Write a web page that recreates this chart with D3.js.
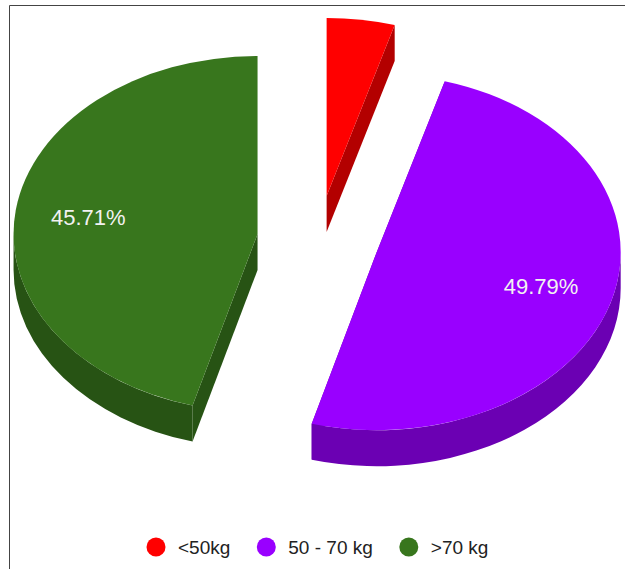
<!DOCTYPE html>
<html>
<head>
<meta charset="utf-8">
<script src="https://cdn.jsdelivr.net/npm/d3@7"></script>
<style>
  html, body { margin: 0; padding: 0; background: #fff; }
  svg { display: block; }
</style>
</head>
<body>
<svg id="chart" width="625" height="569"></svg>
<script>
// Weight groups and their shares (%)
const categories = ["<50kg", "50 - 70 kg", ">70 kg"];
const shares = [4.50, 49.79, 45.71];
const colors = ["#ff0000", "#9900ff", "#38761d"];

const W = 625, H = 569;
const svg = d3.select("#chart");

// frame
svg.append("path")
  .attr("d", `M9.5,${H}V5.5H${W}`)
  .attr("fill", "none")
  .attr("stroke", "#444")
  .attr("stroke-width", 1);

// 3D pie geometry
const cx = 318, cy = 240;     // centre of the un-exploded pie
const rx = 244, ry = 178;     // ellipse radii of the top face
const depth = 36;             // thickness of the pie
const explode = 0.25;         // slice offset as a fraction of radius
const s = ry / rx;            // vertical squash
const R = rx;                 // radius in the unsquashed frame
const D = depth / s;          // thickness in the unsquashed frame

const pie = d3.pie().sort(null).value(d => d.value);
const data = categories.map((c, i) => ({ name: c, value: shares[i], color: colors[i] }));
const arcs = pie(data);
const total = d3.sum(shares);

const arcGen = d3.arc().innerRadius(0).outerRadius(R);

const g = svg.append("g").attr("transform", `translate(${cx},${cy}) scale(1,${s})`);

function offsetOf(a) {
  const mid = (a.startAngle + a.endAngle) / 2;
  return [explode * R * Math.sin(mid), -explode * R * Math.cos(mid)];
}
const rim = (t) => [R * Math.sin(t), -R * Math.cos(t)];
const side = c => { const k = d3.rgb(c); return d3.rgb(k.r * 0.7, k.g * 0.7, k.b * 0.7).toString(); };

// side walls first
const walls = g.append("g");
arcs.forEach(a => {
  const [ox, oy] = offsetOf(a);
  const sg = walls.append("g").attr("transform", `translate(${ox},${oy})`);
  const col = side(a.data.color);
  // radial cut faces
  [a.startAngle, a.endAngle].forEach(t => {
    const [px, py] = rim(t);
    const p = d3.path();
    p.moveTo(0, 0); p.lineTo(px, py); p.lineTo(px, py + D); p.lineTo(0, D); p.closePath();
    sg.append("path").attr("d", p.toString()).attr("fill", col);
  });
  // outer rim wall on the front half
  const a0 = Math.max(a.startAngle, Math.PI / 2);
  const a1 = Math.min(a.endAngle, Math.PI * 1.5);
  if (a1 > a0) {
    const p = d3.path();
    const [x0, y0] = rim(a0);
    const [x1, y1] = rim(a1);
    p.moveTo(x0, y0);
    p.arc(0, 0, R, a0 - Math.PI / 2, a1 - Math.PI / 2, false);
    p.lineTo(x1, y1 + D);
    p.arc(0, D, R, a1 - Math.PI / 2, a0 - Math.PI / 2, true);
    p.closePath();
    sg.append("path").attr("d", p.toString()).attr("fill", col);
  }
});

// top faces
const tops = g.append("g");
arcs.forEach(a => {
  const [ox, oy] = offsetOf(a);
  tops.append("path")
    .attr("transform", `translate(${ox},${oy})`)
    .attr("d", arcGen(a))
    .attr("fill", a.data.color);
});

// percentage labels on the larger slices
const fmt = d3.format(".2f");
arcs.forEach(a => {
  const pct = a.data.value / total * 100;
  if (pct < 10) return;
  const mid = (a.startAngle + a.endAngle) / 2;
  const [ox, oy] = offsetOf(a);
  const lx = ox + 0.70 * R * Math.sin(mid);
  const ly = oy - 0.70 * R * Math.cos(mid);
  svg.append("text")
    .attr("x", cx + lx)
    .attr("y", cy + ly * s)
    .attr("text-anchor", "middle")
    .attr("dominant-baseline", "central")
    .attr("font-family", "Arial, 'Liberation Sans', sans-serif")
    .attr("font-size", 22)
    .attr("fill", "#f2f2f2")
    .text(fmt(pct) + "%");
});

// legend
const legend = svg.append("g");
let lxPos = 156;
const ly = 547;
data.forEach(d => {
  legend.append("circle").attr("cx", lxPos).attr("cy", ly).attr("r", 9.5).attr("fill", d.color);
  const t = legend.append("text")
    .attr("x", lxPos + 22)
    .attr("y", ly)
    .attr("dominant-baseline", "central")
    .attr("font-family", "Arial, 'Liberation Sans', sans-serif")
    .attr("font-size", 19)
    .attr("fill", "#222")
    .text(d.name);
  lxPos = lxPos + 22 + t.node().getComputedTextLength() + 36;
});
</script>
</body>
</html>
